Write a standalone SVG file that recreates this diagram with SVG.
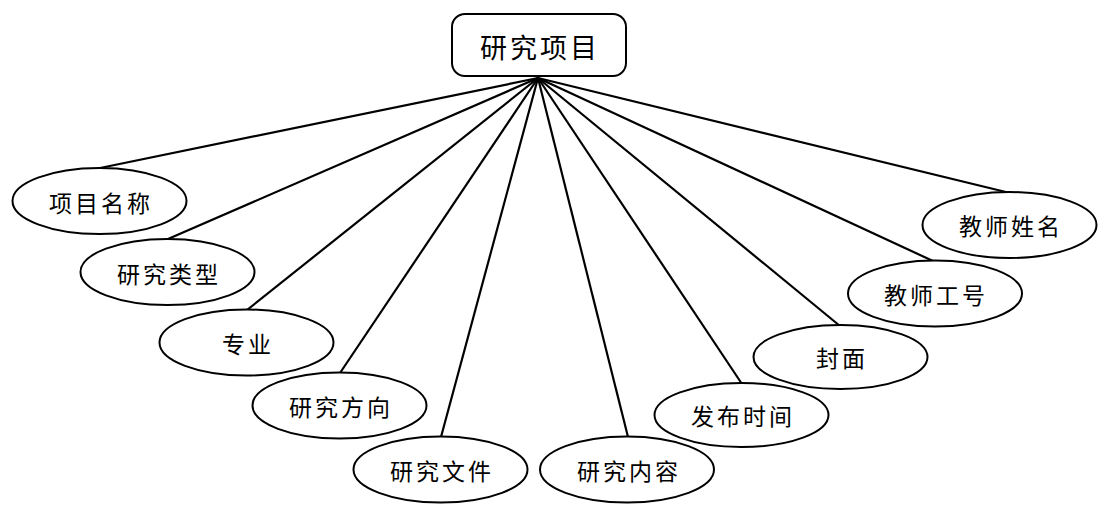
<svg xmlns="http://www.w3.org/2000/svg" width="1117" height="517" viewBox="0 0 1117 517">
<style>
.n{fill:#fff;stroke:#000;stroke-width:2}
.t{font-family:"Noto Sans CJK SC","Noto Sans",sans-serif;font-size:23px;fill:#000;text-anchor:middle;dominant-baseline:central;letter-spacing:3px}
.c line{stroke:#000;stroke-width:2.2}
</style>
<rect width="1117" height="517" fill="#fff"/>
<g class="c" id="connectors">
<line x1="538" y1="78" x2="100" y2="168"/>
<line x1="538" y1="78" x2="168" y2="239"/>
<line x1="538" y1="78" x2="247" y2="310"/>
<line x1="538" y1="78" x2="340" y2="373"/>
<line x1="538" y1="78" x2="441" y2="437"/>
<line x1="538" y1="78" x2="628" y2="437"/>
<line x1="538" y1="78" x2="742" y2="384"/>
<line x1="538" y1="78" x2="840" y2="326"/>
<line x1="538" y1="78" x2="933" y2="261"/>
<line x1="538" y1="78" x2="1010" y2="193"/>
</g>
<g id="root"><rect class="n" x="452" y="14" width="174" height="62" rx="13"/><text class="t" x="540" y="46" style="font-size:27px">研究项目</text></g>
<g id="n1"><ellipse class="n" cx="99.5" cy="201" rx="87" ry="33"/><text class="t" x="101" y="202">项目名称</text></g>
<g id="n2"><ellipse class="n" cx="167.5" cy="272" rx="87" ry="33"/><text class="t" x="169" y="273">研究类型</text></g>
<g id="n3"><ellipse class="n" cx="246.5" cy="342.5" rx="87" ry="33"/><text class="t" x="248" y="343">专业</text></g>
<g id="n4"><ellipse class="n" cx="339.5" cy="405.5" rx="87" ry="33"/><text class="t" x="341" y="406">研究方向</text></g>
<g id="n5"><ellipse class="n" cx="440.5" cy="469.5" rx="87" ry="33"/><text class="t" x="442" y="470">研究文件</text></g>
<g id="n6"><ellipse class="n" cx="627" cy="469.5" rx="87" ry="33"/><text class="t" x="629" y="470">研究内容</text></g>
<g id="n7"><ellipse class="n" cx="741.5" cy="415" rx="87" ry="32"/><text class="t" x="743" y="415">发布时间</text></g>
<g id="n8"><ellipse class="n" cx="840.5" cy="357" rx="87" ry="32"/><text class="t" x="842" y="357">封面</text></g>
<g id="n9"><ellipse class="n" cx="935" cy="293.5" rx="87" ry="33"/><text class="t" x="936" y="294">教师工号</text></g>
<g id="n10"><ellipse class="n" cx="1009.5" cy="225" rx="87" ry="33"/><text class="t" x="1011" y="225">教师姓名</text></g>
</svg>
